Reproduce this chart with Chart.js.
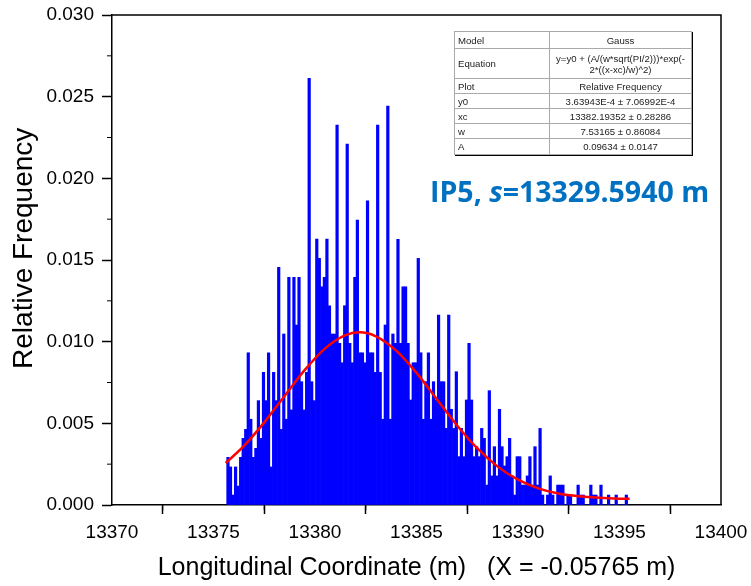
<!DOCTYPE html>
<html>
<head>
<meta charset="utf-8">
<script src="https://cdn.jsdelivr.net/npm/chart.js@4.4.1/dist/chart.umd.min.js"></script>
<style>
  html, body { margin: 0; padding: 0; background: #fff; }
  #wrap { position: relative; width: 751px; height: 586px; }
  #fit {
    position: absolute; left: 454px; top: 31px; width: 238px;
    border-collapse: collapse; border: 1px solid #222;
    box-shadow: 1px 1px 0 #000;
    font: 9.6px "Liberation Sans", Arial, sans-serif; color: #222; background: #fff;
  }
  #fit td { border: 1px solid #aaa; padding: 0 3px; line-height: 11px; }
  #fit td:first-child { width: 88px; }
  #fit td:last-child { text-align: center; }
  #label {
    position: absolute; left: 430px; top: 172px; line-height: 28px;
    font: 700 28.5px "Open Sans", sans-serif; color: #0070c0; white-space: nowrap;
  }
</style>
</head>
<body>
<div id="wrap">
  <canvas id="histChart"></canvas>
  <table id="fit">
    <tr style="height:17px"><td>Model</td><td>Gauss</td></tr>
    <tr style="height:30px"><td>Equation</td><td>y=y0 + (A/(w*sqrt(PI/2)))*exp(-<br>2*((x-xc)/w)^2)</td></tr>
    <tr style="height:15px"><td>Plot</td><td>Relative Frequency</td></tr>
    <tr style="height:15px"><td>y0</td><td>3.63943E-4 ± 7.06992E-4</td></tr>
    <tr style="height:15px"><td>xc</td><td>13382.19352 ± 0.28286</td></tr>
    <tr style="height:15px"><td>w</td><td>7.53165 ± 0.86084</td></tr>
    <tr style="height:16px"><td>A</td><td>0.09634 ± 0.0147</td></tr>
  </table>
  <div id="label">IP5, <i>s</i>=13329.5940 m</div>
</div>
<script>
Chart.defaults.font.family = '"Liberation Sans", Arial, sans-serif';
Chart.defaults.color = '#000';
Chart.defaults.animation = false;

// histogram bins (m)
const binStart = 13375.65;
const binWidth = 0.125;

// relative frequency per bin
const relFreq = [
  0.00292, 0.00233, 0.00061, 0.00233, 0.00116, 0.00292, 0.00408, 0.00463, 0.00932, 0.00525,
  0.00292, 0.00347, 0.00639, 0.00408, 0.00812, 0.00639, 0.00932, 0.00233, 0.00812, 0.00639,
  0.01455, 0.00463, 0.01047, 0.00525, 0.01394, 0.00582, 0.01394, 0.01102, 0.01394, 0.00755,
  0.00582, 0.00812, 0.02612, 0.00755, 0.00639, 0.01628, 0.01510, 0.01336, 0.01394, 0.01628,
  0.01220, 0.01047, 0.01047, 0.02326, 0.00990, 0.00871, 0.01220, 0.02210, 0.00990, 0.00871,
  0.01394, 0.01745, 0.00932, 0.00932, 0.00871, 0.01863, 0.00932, 0.00932, 0.00812,
  0.02326, 0.00812, 0.00525, 0.01102, 0.02443, 0.00525, 0.01047, 0.00990, 0.01627, 0.00990,
  0.01336, 0.01336, 0.00990, 0.00643, 0.00871, 0.00871, 0.01510, 0.00932, 0.00525, 0.00755,
  0.00932, 0.00525, 0.00755, 0.00643, 0.01163, 0.00755, 0.00755, 0.00469, 0.01163, 0.00586,
  0.00469, 0.00816, 0.00296, 0.00469, 0.00296, 0.00643, 0.00990, 0.00643, 0.00296, 0.00357,
  0.00296, 0.00469, 0.00408, 0.00122, 0.00700, 0.00178, 0.00357, 0.00178, 0.00586, 0.00357,
  0.00239, 0.00296, 0.00408, 0.00178, 0.00061, 0.00296, 0.00296, 0.00122, 0.00122, 0.00178,
  0.00296, 0.00122, 0.00357, 0.00122, 0.00469, 0.00061, 0, 0.00061, 0.00178, 0.00061,
  0, 0.00122, 0.00122, 0.00122, 0, 0.00061, 0.00061, 0, 0, 0.00122,
  0.00061, 0.00061, 0, 0, 0.00122, 0.00061, 0.00061, 0, 0.00122, 0,
  0, 0.00061, 0, 0, 0.00061, 0, 0, 0, 0.00061
];

// Gauss fit curve
const fitX = [13375.6, 13376.5, 13377.5, 13378.5, 13379.5, 13380.5, 13381.5, 13382.2, 13383,
  13384, 13385, 13386, 13387, 13388, 13389, 13390, 13391, 13392, 13393, 13394, 13395, 13395.5];
const fitY = [0.00257, 0.00362, 0.00506, 0.00668, 0.00827, 0.00959, 0.0104, 0.01057, 0.01033,
  0.00945, 0.00809, 0.00648, 0.00487, 0.00346, 0.00235, 0.00155, 0.00102, 0.0007, 0.00053,
  0.00044, 0.00039, 0.00038];

const xMinor = [13372.5, 13377.5, 13382.5, 13387.5, 13392.5, 13397.5];
const yMinor = [0.0025, 0.0075, 0.0125, 0.0175, 0.0225, 0.0275];

const histData = relFreq.map((v, i) => ({ x: binStart + (i + 0.5) * binWidth, y: v }));
const fitData = fitX.map((x, i) => ({ x: x, y: fitY[i] }));

// closed frame + minor ticks
const framePlugin = {
  id: 'frame',
  afterDraw(chart) {
    const { ctx, chartArea: a, scales } = chart;
    ctx.save();
    ctx.strokeStyle = '#000';
    ctx.lineWidth = 1.5;
    ctx.beginPath();
    ctx.moveTo(a.left, a.top);
    ctx.lineTo(a.right, a.top);
    ctx.lineTo(a.right, a.bottom);
    ctx.stroke();
    ctx.lineWidth = 1;
    ctx.beginPath();
    xMinor.forEach(v => {
      const px = scales.x.getPixelForValue(v);
      ctx.moveTo(px, a.bottom);
      ctx.lineTo(px, a.bottom + 5);
    });
    yMinor.forEach(v => {
      const py = scales.y.getPixelForValue(v);
      ctx.moveTo(a.left - 5, py);
      ctx.lineTo(a.left, py);
    });
    ctx.stroke();
    ctx.restore();
  }
};

// fixed axis boxes so the plot area sits where the original has it
const pinScale = size => s => {
  if (s.isHorizontal()) s.height = size; else s.width = size;
  s.paddingTop = 0;
  s.paddingBottom = 0;
  s.paddingLeft = 0;
  s.paddingRight = 0;
};

const chart = new Chart(document.getElementById('histChart'), {
  type: 'bar',
  data: {
    datasets: [{
      type: 'line',
      data: fitData,
      borderColor: '#ff0000',
      borderWidth: 2.5,
      pointRadius: 0,
      cubicInterpolationMode: 'monotone',
      order: 0
    }, {
      data: histData,
      backgroundColor: '#0000ff',
      borderWidth: 0,
      categoryPercentage: 1,
      barPercentage: 1,
      order: 1
    }]
  },
  options: {
    responsive: true,
    maintainAspectRatio: false,
    layout: {
      padding: { left: 0, right: 30, top: 15, bottom: 0 }
    },
    plugins: {
      legend: { display: false },
      tooltip: { enabled: false }
    },
    scales: {
      x: {
        type: 'linear',
        min: 13370,
        max: 13400,
        offset: false,
        afterFit: pinScale(81),
        ticks: {
          stepSize: 5,
          autoSkip: false,
          maxRotation: 0,
          padding: 7,
          font: { size: 19 },
          callback: v => String(v)
        },
        grid: {
          drawOnChartArea: false,
          tickLength: 9,
          tickColor: '#000',
          tickWidth: 1.5
        },
        border: { color: '#000', width: 1.5 },
        title: {
          display: true,
          text: 'Longitudinal Coordinate (m)   (X = -0.05765 m)',
          font: { size: 25 },
          padding: { top: 0, bottom: 3 }
        }
      },
      y: {
        min: 0,
        max: 0.03,
        afterFit: pinScale(112),
        ticks: {
          stepSize: 0.005,
          padding: 8,
          font: { size: 19 },
          callback: v => v.toFixed(3)
        },
        grid: {
          drawOnChartArea: false,
          tickLength: 10,
          tickColor: '#000',
          tickWidth: 1.5
        },
        border: { color: '#000', width: 1.5 },
        title: {
          display: true,
          text: '   Relative Frequency',
          font: { size: 28 },
          padding: { top: 7, bottom: 0 }
        }
      }
    }
  },
  plugins: [framePlugin]
});
</script>
</body>
</html>
